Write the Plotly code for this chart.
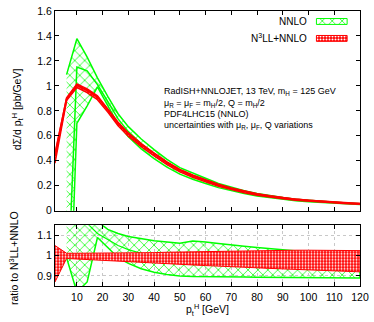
import plotly.graph_objects as go

# pt grid [GeV]
x_pt = [1.5, 6, 10, 14, 18, 22, 26, 30, 35, 40, 45, 50, 55, 60, 65, 70, 75, 80,
        85, 90, 95, 100, 105, 110, 115, 120]
x_nnlo = x_pt[1:]

# N3LL+NNLO central value [pb/GeV] and its uncertainty band (ratio to central)
n3ll_central = [0.437, 0.894, 1.004, 0.965, 0.91, 0.81, 0.70, 0.615, 0.53, 0.455,
                0.385, 0.325, 0.28, 0.243, 0.206, 0.178, 0.153, 0.132, 0.116,
                0.102, 0.09, 0.081, 0.073, 0.066, 0.06, 0.055]
n3ll_ratio_up = [1.05, 1.012, 1.012, 1.012, 1.012, 1.012, 1.013, 1.013, 1.014,
                 1.015, 1.017, 1.018, 1.02, 1.022, 1.024, 1.025, 1.026, 1.027,
                 1.027, 1.027, 1.027, 1.027, 1.027, 1.026, 1.026, 1.025]
n3ll_ratio_lo = [0.87, 0.986, 0.983, 0.98, 0.977, 0.975, 0.972, 0.97, 0.967,
                 0.964, 0.96, 0.957, 0.954, 0.951, 0.948, 0.945, 0.942, 0.94,
                 0.937, 0.935, 0.932, 0.93, 0.927, 0.925, 0.922, 0.92]

# NNLO band, as ratio to N3LL+NNLO central (lower panel)
nnlo_ratio_up = [1.22, 1.37, 1.27, 1.17, 1.13, 1.11, 1.095, 1.083, 1.074, 1.068,
                 1.062, 1.072, 1.068, 1.06, 1.052, 1.046, 1.04, 1.034, 1.028,
                 1.022, 1.018, 1.014, 1.01, 1.007, 1.005]
nnlo_ratio_lo = [0.99, 0.82, 0.87, 1.09, 1.04, 0.99, 0.962, 0.935, 0.918, 0.907,
                 0.90, 0.897, 0.895, 0.895, 0.894, 0.894, 0.893, 0.893, 0.892,
                 0.892, 0.891, 0.891, 0.89, 0.89, 0.89]
nnlo_ratio_cen = [1.2, 1.17, 1.16, 1.11, 1.08, 1.05, 1.03, 1.01, 0.993, 0.985,
                  0.98, 0.98, 0.98, 0.98, 0.981, 0.982, 0.983, 0.984, 0.985,
                  0.985, 0.985, 0.985, 0.985, 0.985, 0.985]

# NNLO at 6, 10, 14 GeV in the upper panel [pb/GeV] (goes negative at low pt)
nnlo_lowpt_up = [1.09, 1.378, 1.23]
nnlo_lowpt_lo = [-1.6, 0.70, 0.84]
nnlo_lowpt_cen = [-0.9, 1.15, 1.12]

GREEN = 'rgb(0, 255, 0)'
RED = 'rgb(255, 0, 0)'
FONT = 'Liberation Sans, Arial, sans-serif'

ref_nnlo = n3ll_central[1:]


def scale(ratio, ref, lowpt):
    vals = [r * c for r, c in zip(ratio, ref)]
    return lowpt + vals[len(lowpt):]


def px_x(px):
    # pixel column -> paper fraction
    return (px - 55) / 308


def px_y(py):
    # pixel row -> paper fraction
    return (286 - py) / 281


green_pattern = dict(shape='x', fgcolor=GREEN, bgcolor='rgba(255,255,255,0)',
                     size=7, solidity=0.2, fillmode='replace', fgopacity=1)
red_pattern = dict(shape='.', fgcolor='white', bgcolor=RED, size=3,
                   solidity=0.35, fillmode='replace', fgopacity=1)


def band(x, up, lo, xa, ya, pattern, color, width):
    return go.Scatter(
        x=list(x) + list(x)[::-1], y=list(up) + list(lo)[::-1],
        xaxis=xa, yaxis=ya, mode='lines', fill='toself',
        fillpattern=pattern, fillcolor=color,
        line=dict(color=color, width=width), hoverinfo='skip',
        showlegend=False)


def curve(x, y, xa, ya, color, width):
    return go.Scatter(x=x, y=y, xaxis=xa, yaxis=ya, mode='lines',
                      line=dict(color=color, width=width),
                      hoverinfo='skip', showlegend=False)


fig = go.Figure()

# top panel
fig.add_trace(band(x_nnlo, scale(nnlo_ratio_up, ref_nnlo, nnlo_lowpt_up),
                   scale(nnlo_ratio_lo, ref_nnlo, nnlo_lowpt_lo), 'x', 'y',
                   green_pattern, GREEN, 1.5))
fig.add_trace(curve(x_nnlo, scale(nnlo_ratio_cen, ref_nnlo, nnlo_lowpt_cen),
                    'x', 'y', GREEN, 1.5))
fig.add_trace(band(x_pt, scale(n3ll_ratio_up, n3ll_central, []),
                   scale(n3ll_ratio_lo, n3ll_central, []), 'x', 'y',
                   red_pattern, RED, 1.5))
fig.add_trace(curve(x_pt, n3ll_central, 'x', 'y', RED, 2))

# ratio panel
fig.add_trace(band(x_nnlo, nnlo_ratio_up, nnlo_ratio_lo, 'x2', 'y2',
                   green_pattern, GREEN, 1.5))
fig.add_trace(curve(x_nnlo, nnlo_ratio_cen, 'x2', 'y2', GREEN, 1.2))
fig.add_trace(band(x_pt, n3ll_ratio_up, n3ll_ratio_lo, 'x2', 'y2',
                   red_pattern, RED, 1))

# key swatches, drawn on an overlay in pixel units
for y0, pattern, color in [(12.7, green_pattern, GREEN), (30, red_pattern, RED)]:
    fig.add_trace(go.Scatter(
        x=[319, 350, 350, 319, 319], y=[y0, y0, y0 + 6, y0 + 6, y0],
        xaxis='x3', yaxis='y3', mode='lines', fill='toself',
        fillpattern=pattern, fillcolor=color,
        line=dict(color=color, width=1), hoverinfo='skip', showlegend=False))

axis_common = dict(showline=True, linecolor='black', linewidth=1,
                   mirror='ticks', ticks='inside', ticklen=4,
                   tickcolor='black', tickfont=dict(size=10.5, color='black'),
                   zeroline=False, ticklabeloverflow='allow')

fig.update_layout(
    width=374, height=322,
    margin=dict(l=55, r=11, t=5, b=36),
    paper_bgcolor='white', plot_bgcolor='rgba(0,0,0,0)',
    font=dict(family=FONT, size=10, color='black'),
    showlegend=False,
    xaxis=dict(domain=[0, 1], anchor='y', range=[1.5, 120], dtick=10,
               tick0=0, showticklabels=False, showgrid=False, **axis_common),
    yaxis=dict(domain=[0.274, 1], anchor='x', range=[0, 1.6001], dtick=0.2,
               showgrid=False, **axis_common),
    xaxis2=dict(domain=[0, 1], anchor='y2', range=[1.5, 120.001], dtick=10,
                tick0=0, showgrid=True, gridcolor='#c8c8c8', griddash='dot',
                gridwidth=1, ticklabelstandoff=1, **axis_common),
    yaxis2=dict(domain=[0, 0.2206], anchor='x2', range=[0.85, 1.15],
                tickvals=[0.9, 1, 1.1], showgrid=True, gridcolor='#c8c8c8',
                griddash='dot', gridwidth=1, **axis_common),
    xaxis3=dict(domain=[0, 1], anchor='y3', range=[55, 363], visible=False,
                fixedrange=True),
    yaxis3=dict(domain=[0, 1], anchor='x3', range=[286, 5], visible=False,
                fixedrange=True),
)

ann = []
for y, txt in [(87.3, 'RadISH+NNLOJET, 13 TeV, m<sub>H</sub> = 125 GeV'),
               (99.3, 'μ<sub>R</sub> = μ<sub>F</sub> = m<sub>H</sub>/2, '
                      'Q = m<sub>H</sub>/2'),
               (110.5, 'PDF4LHC15 (NNLO)'),
               (122.5, 'uncertainties with μ<sub>R</sub>, μ<sub>F</sub>, '
                       'Q variations')]:
    ann.append(dict(x=px_x(163), y=px_y(y), xref='paper', yref='paper',
                    text=txt, showarrow=False, xanchor='left',
                    yanchor='middle', font=dict(size=9)))
ann.append(dict(x=px_x(312), y=px_y(15.7), xref='paper', yref='paper',
                text='NNLO', showarrow=False, xanchor='right',
                yanchor='middle', font=dict(size=10)))
ann.append(dict(x=px_x(312), y=px_y(33), xref='paper', yref='paper',
                text='N<sup>3</sup>LL+NNLO', showarrow=False,
                xanchor='right', yanchor='middle', font=dict(size=10)))
ann.append(dict(x=px_x(17), y=px_y(105), xref='paper', yref='paper',
                text='dΣ/d p<sub>t</sub><sup>H</sup> [pb/GeV]',
                showarrow=False, textangle=-90, xanchor='center',
                yanchor='middle', font=dict(size=10.5)))
ann.append(dict(x=px_x(13), y=px_y(257), xref='paper', yref='paper',
                text='ratio to N<sup>3</sup>LL+NNLO',
                showarrow=False, textangle=-90, xanchor='center',
                yanchor='middle', font=dict(size=10.5)))
ann.append(dict(x=px_x(209), y=px_y(311), xref='paper', yref='paper',
                text='p<sub>t</sub><sup>H</sup> [GeV]',
                showarrow=False, xanchor='center', yanchor='middle',
                font=dict(size=10.5)))
fig.update_layout(annotations=ann)

# drop the browser's default page margin so the figure sits at (0, 0)
fig.write_html("out.html", config={'displayModeBar': False},
               post_script="document.body.style.margin = '0';")
